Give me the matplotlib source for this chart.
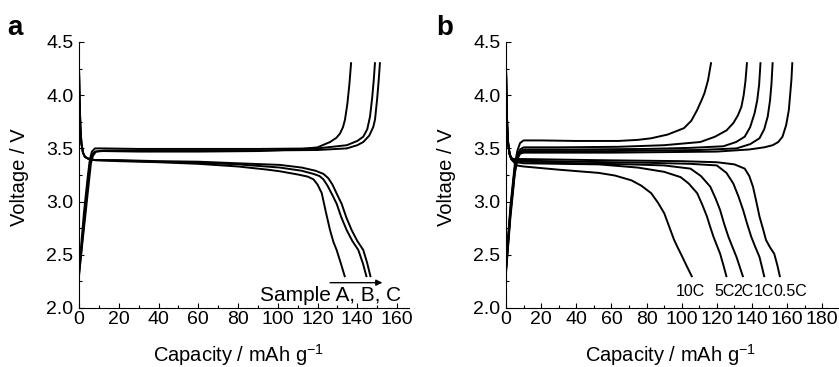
import matplotlib
matplotlib.use("Agg")
import matplotlib.pyplot as plt
from matplotlib.ticker import MultipleLocator

plt.rcParams['font.family'] = ['Liberation Sans', 'DejaVu Sans']
plt.rcParams['mathtext.fontset'] = 'custom'
plt.rcParams['mathtext.rm'] = 'Liberation Sans'

# ---- panel a: samples A, B, C ----
charge_a = {
    'A': ([0, 2.5, 4.5, 5.5, 6.5, 8, 12, 30, 60, 90, 110, 120, 126.3, 129.5, 131.3, 132.8, 133.8, 135, 136, 136.9],
          [2.30, 2.80, 3.20, 3.36, 3.44, 3.47, 3.475, 3.47, 3.47, 3.475, 3.49, 3.51, 3.56, 3.60, 3.64, 3.70, 3.77, 3.92, 4.10, 4.31]),
    'B': ([0, 2.5, 4.5, 5.5, 6.5, 8, 12, 30, 60, 90, 120, 134.7, 140, 143, 145, 146.4, 147.5, 148.3, 148.9],
          [2.35, 2.90, 3.25, 3.40, 3.47, 3.50, 3.50, 3.495, 3.495, 3.495, 3.50, 3.53, 3.57, 3.61, 3.68, 3.80, 3.98, 4.15, 4.31]),
    'C': ([0, 2.5, 4.5, 6, 7, 8.5, 12, 30, 60, 90, 120, 134.7, 140, 143, 146, 148, 148.9, 150, 150.8, 151.4],
          [2.32, 2.75, 3.10, 3.36, 3.43, 3.47, 3.48, 3.48, 3.48, 3.48, 3.485, 3.50, 3.53, 3.56, 3.62, 3.70, 3.77, 3.97, 4.15, 4.31]),
}
discharge_a = {
    'A': ([0, 0.3, 0.7, 1.2, 2, 3, 5, 8, 20, 40, 60, 80, 95, 101, 110, 115, 117.9, 120, 122.1, 124.2, 126.3, 128, 129.6, 131.7, 133.8],
          [4.25, 3.95, 3.70, 3.55, 3.46, 3.42, 3.40, 3.39, 3.38, 3.37, 3.355, 3.33, 3.30, 3.285, 3.255, 3.235, 3.21, 3.16, 3.08, 2.90, 2.73, 2.62, 2.545, 2.42, 2.29]),
    'B': ([0, 0.3, 0.7, 1.2, 2, 3, 5, 8, 20, 40, 60, 80, 101, 112, 118, 121, 122.9, 125, 127.5, 129.6, 132, 134.7, 137.5, 140.5, 142.8, 144.7],
          [4.25, 3.95, 3.70, 3.55, 3.46, 3.42, 3.40, 3.39, 3.385, 3.375, 3.365, 3.35, 3.32, 3.29, 3.26, 3.24, 3.21, 3.15, 3.06, 2.98, 2.85, 2.73, 2.63, 2.545, 2.42, 2.29]),
    'C': ([0, 0.3, 0.7, 1.2, 2, 3, 5, 8, 20, 40, 60, 80, 101, 112, 119, 123, 125.4, 127.5, 130, 132.1, 134.5, 137.2, 140, 143, 145, 146.7],
          [4.25, 3.95, 3.70, 3.55, 3.46, 3.42, 3.40, 3.39, 3.39, 3.38, 3.375, 3.36, 3.345, 3.32, 3.29, 3.26, 3.22, 3.16, 3.06, 2.98, 2.85, 2.73, 2.63, 2.545, 2.42, 2.29]),
}

# ---- panel b: rates ----
rates = ['10C', '5C', '2C', '1C', '0.5C']
charge_b = {
    '10C': ([0, 2.5, 5, 6.5, 8, 10, 20, 40, 63.9, 75, 82.6, 92, 101.3, 105.5, 108.8, 111.5, 113, 115, 116.8],
            [2.40, 2.95, 3.35, 3.48, 3.55, 3.575, 3.575, 3.57, 3.57, 3.58, 3.595, 3.63, 3.69, 3.76, 3.86, 3.96, 4.02, 4.14, 4.31]),
    '5C': ([0, 2.5, 5, 6.5, 8, 10, 30, 63.9, 90, 110.6, 119, 125.6, 129.5, 132, 134, 135.3, 136.3, 137.2],
           [2.38, 2.92, 3.32, 3.44, 3.49, 3.51, 3.51, 3.515, 3.53, 3.56, 3.61, 3.67, 3.74, 3.81, 3.89, 4.00, 4.13, 4.31]),
    '2C': ([0, 2.5, 5, 6.5, 8, 10, 40, 80, 105, 123.7, 131, 135.9, 139, 141.5, 143, 144.1, 144.9],
           [2.36, 2.90, 3.30, 3.42, 3.47, 3.49, 3.49, 3.495, 3.505, 3.52, 3.56, 3.61, 3.70, 3.83, 3.95, 4.10, 4.31]),
    '1C': ([0, 2.5, 5, 6.5, 8, 10, 60, 110, 131.2, 139, 144.3, 147, 149, 150.3, 151.1, 151.8],
           [2.35, 2.88, 3.28, 3.41, 3.46, 3.475, 3.475, 3.485, 3.50, 3.54, 3.595, 3.68, 3.80, 3.95, 4.10, 4.31]),
    '0.5C': ([0, 2.5, 5, 6.5, 8, 10, 60, 120, 138.5, 147, 151.8, 155, 157.4, 159.5, 161, 162, 162.5, 163],
             [2.33, 2.85, 3.26, 3.40, 3.45, 3.46, 3.46, 3.47, 3.49, 3.51, 3.53, 3.56, 3.61, 3.72, 3.86, 4.05, 4.15, 4.31]),
}
discharge_b = {
    '10C': ([0, 0.3, 0.7, 1.2, 2, 3, 4.5, 6, 10, 30, 52.7, 62, 71.4, 77, 82.6, 86.5, 90.1, 93, 95.7, 98, 100.4, 103, 106],
            [4.25, 3.95, 3.70, 3.55, 3.45, 3.40, 3.37, 3.34, 3.33, 3.30, 3.27, 3.245, 3.20, 3.15, 3.08, 2.99, 2.89, 2.76, 2.64, 2.56, 2.48, 2.39, 2.29]),
    '5C': ([0, 0.3, 0.7, 1.2, 2, 3, 4.5, 6, 10, 30, 52.7, 75, 90, 99.4, 104, 108.8, 111.5, 114.4, 116.3, 118.1, 120, 121.9, 123.8, 125.6],
           [4.25, 3.95, 3.70, 3.55, 3.45, 3.40, 3.38, 3.37, 3.36, 3.355, 3.35, 3.32, 3.28, 3.23, 3.17, 3.08, 2.98, 2.86, 2.76, 2.67, 2.59, 2.51, 2.40, 2.29]),
    '2C': ([0, 0.3, 0.7, 1.2, 2, 3, 4.5, 6, 10, 40, 70, 90, 105, 111, 116.3, 119.3, 121.9, 124.2, 126.6, 129, 131.2, 133.2, 135],
           [4.25, 3.95, 3.70, 3.55, 3.45, 3.40, 3.385, 3.38, 3.375, 3.36, 3.35, 3.34, 3.31, 3.24, 3.14, 3.03, 2.92, 2.79, 2.67, 2.57, 2.48, 2.38, 2.29]),
    '1C': ([0, 0.3, 0.7, 1.2, 2, 3, 4.5, 6, 10, 40, 80, 105, 120, 125.5, 129.4, 132.3, 135, 137.3, 139.6, 142, 144.3, 145.8, 147.1],
           [4.25, 3.95, 3.70, 3.55, 3.45, 3.41, 3.395, 3.39, 3.385, 3.375, 3.365, 3.355, 3.34, 3.27, 3.17, 3.05, 2.92, 2.79, 2.67, 2.57, 2.48, 2.38, 2.29]),
    '0.5C': ([0, 0.3, 0.7, 1.2, 2, 3, 4.5, 6, 10, 50, 100, 120, 130, 135.9, 138.5, 140.6, 142.5, 144.3, 146.2, 148, 150.3, 152.7, 154.5, 156],
             [4.25, 3.95, 3.70, 3.55, 3.45, 3.41, 3.40, 3.40, 3.40, 3.39, 3.38, 3.37, 3.35, 3.31, 3.24, 3.14, 3.00, 2.86, 2.75, 2.64, 2.57, 2.51, 2.40, 2.29]),
}
rate_label_x = [104.9, 124.7, 135.3, 147.1, 162.1]
rate_label_y = 2.155


def style_axes(ax, xmax):
    ax.set_xlim(0, xmax)
    ax.set_ylim(2.0, 4.5)
    ax.spines['top'].set_visible(False)
    ax.spines['right'].set_visible(False)
    ax.xaxis.set_major_locator(MultipleLocator(20))
    ax.xaxis.set_minor_locator(MultipleLocator(10))
    ax.yaxis.set_major_locator(MultipleLocator(0.5))
    ax.yaxis.set_minor_locator(MultipleLocator(0.25))
    ax.yaxis.set_major_formatter(matplotlib.ticker.FormatStrFormatter('%.1f'))
    ax.tick_params(which='major', direction='in', length=3.5, width=0.8, labelsize=14)
    ax.tick_params(axis='x', which='major', pad=2.5)
    ax.tick_params(axis='y', which='major', pad=4)
    ax.tick_params(which='minor', direction='in', length=2, width=0.8)
    for s in ['left', 'bottom']:
        ax.spines[s].set_linewidth(0.8)


fig = plt.figure(figsize=(8.39, 3.67), dpi=100)
ax1 = fig.add_axes([79 / 839, 59 / 367, 330 / 839, 266 / 367])
ax2 = fig.add_axes([506 / 839, 59 / 367, 332 / 839, 266 / 367])

for key in ['A', 'B', 'C']:
    ax1.plot(*charge_a[key], color='black', lw=1.4, solid_capstyle='butt')
    ax1.plot(*discharge_a[key], color='black', lw=1.4, solid_capstyle='butt')
style_axes(ax1, 166)
ax1.text(126.7, 2.122, 'Sample A, B, C', fontsize=15, ha='center', va='center')
ax1.annotate('', xy=(152.6, 2.238), xytext=(126.3, 2.238),
             arrowprops=dict(arrowstyle='-|>', lw=1.0, color='black', mutation_scale=9,
                             shrinkA=0, shrinkB=0))

for r, lx in zip(rates, rate_label_x):
    ax2.plot(*charge_b[r], color='black', lw=1.4, solid_capstyle='butt')
    ax2.plot(*discharge_b[r], color='black', lw=1.4, solid_capstyle='butt')
    ax2.text(lx, rate_label_y, r, fontsize=11.5, ha='center', va='center')
style_axes(ax2, 189)

# labels
fig.text(20 / 839, 0.518, 'Voltage / V', rotation=90, fontsize=14.5, ha='center', va='center')
fig.text(447 / 839, 0.518, 'Voltage / V', rotation=90, fontsize=14.5, ha='center', va='center')
fig.text(238 / 839, 0.033, 'Capacity / mAh g$^{\\mathregular{-1}}$', fontsize=14.5, ha='center', va='center')
fig.text(670 / 839, 0.033, 'Capacity / mAh g$^{\\mathregular{-1}}$', fontsize=14.5, ha='center', va='center')
fig.text(7 / 839, 1 - 35 / 367, 'a', fontsize=20, fontweight='bold', ha='left', va='baseline')
fig.text(436 / 839, 1 - 35 / 367, 'b', fontsize=20, fontweight='bold', ha='left', va='baseline')

fig.savefig('out.png', dpi=100)
